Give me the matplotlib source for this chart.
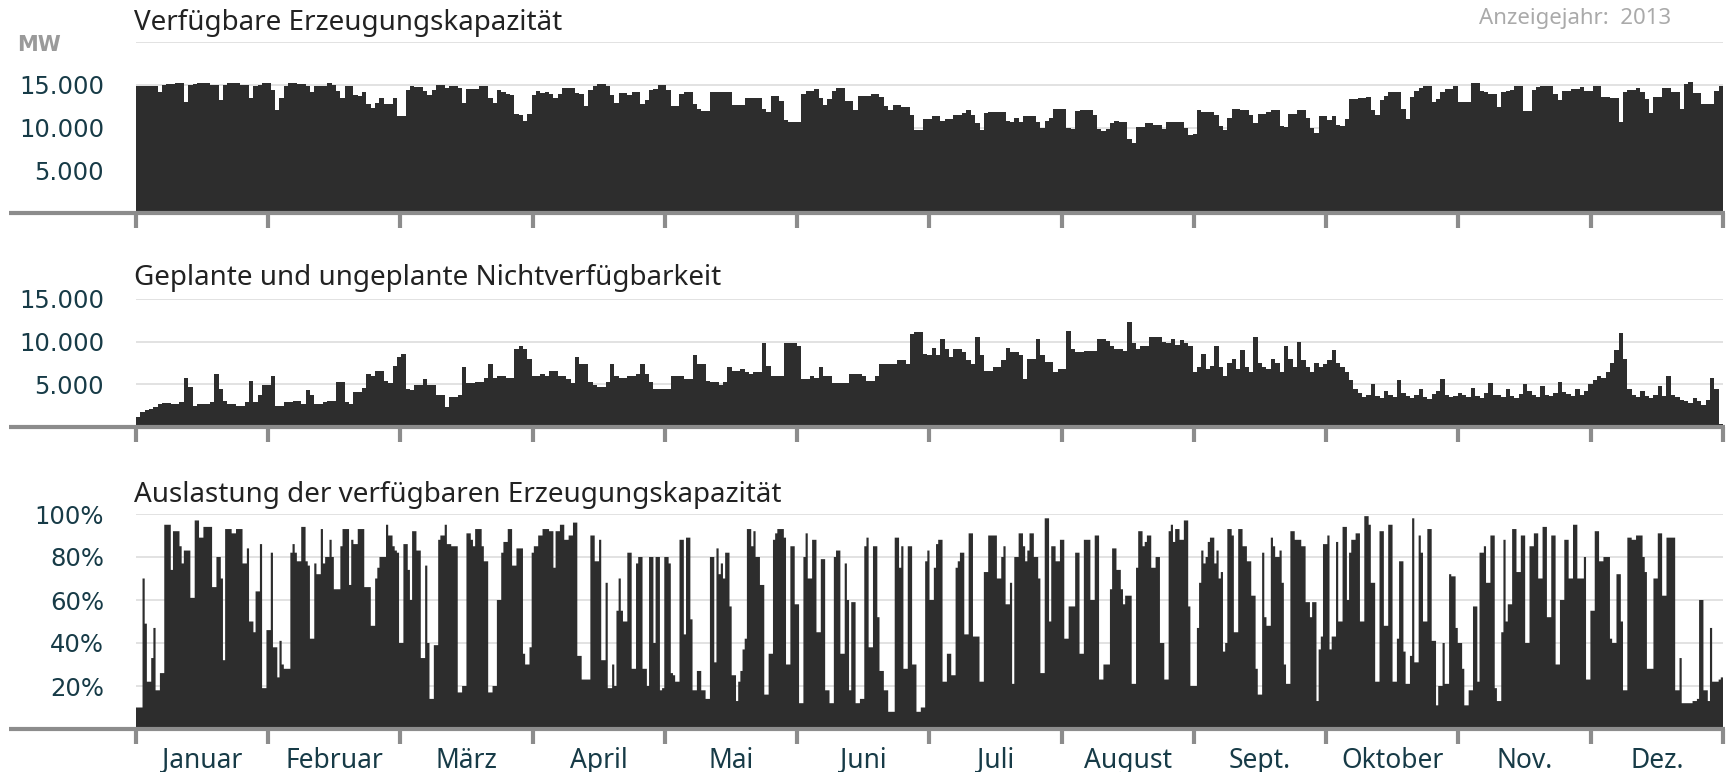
import numpy as np
import matplotlib
matplotlib.use("Agg")
import matplotlib.pyplot as plt
from matplotlib.lines import Line2D
from matplotlib.transforms import blended_transform_factory

# ---------------- data ----------------
months = ["Januar", "Februar", "März", "April", "Mai", "Juni", "Juli",
          "August", "Sept.", "Oktober", "Nov.", "Dez."]

# available generation capacity per day, in 1000 MW
capacity_k = [
    14.9, 14.9, 14.8, 14.8, 14.8, 14.2, 15.0, 15.1, 15.1, 15.2,
    15.2, 13.0, 15.0, 15.1, 15.2, 15.2, 15.2, 15.0, 15.0, 13.2,
    15.0, 15.2, 15.2, 15.2, 15.0, 15.0, 13.5, 14.8, 15.0, 15.2,
    15.2, 14.4, 12.0, 13.5, 14.85, 15.2, 15.2, 15.1, 15.1, 14.9,
    14.2, 14.9, 14.9, 14.9, 15.2, 15.0, 14.3, 13.5, 14.85, 14.8,
    13.8, 13.7, 14.1, 12.7, 12.3, 12.9, 13.4, 12.8, 12.8, 13.5,
    11.3, 11.3, 14.4, 14.85, 14.7, 14.7, 14.3, 13.8, 14.4, 15.0,
    15.0, 14.6, 14.85, 14.85, 14.6, 12.9, 14.5, 14.5, 14.5, 14.85,
    14.85, 13.4, 12.9, 14.4, 14.1, 13.9, 13.8, 11.6, 11.5, 10.8,
    11.6, 13.8, 14.3, 14.0, 14.2, 13.9, 13.4, 13.9, 14.6, 14.6,
    14.6, 14.0, 13.9, 12.5, 14.4, 14.85, 15.1, 15.1, 14.85, 13.8,
    12.9, 14.0, 14.0, 13.8, 14.1, 14.1, 12.8, 13.2, 14.4, 14.5,
    15.0, 15.0, 14.4, 12.5, 12.5, 13.9, 14.1, 14.1, 12.8, 12.2,
    11.95, 11.95, 14.1, 14.1, 14.1, 14.1, 14.1, 12.6, 12.6, 12.6,
    13.4, 13.4, 13.4, 13.4, 12.2, 11.85, 13.7, 13.7, 13.1, 10.9,
    10.6, 10.7, 10.7, 13.9, 14.3, 14.3, 14.5, 13.5, 12.6, 13.3,
    14.3, 14.6, 14.6, 13.1, 13.1, 12.1, 13.7, 13.7, 13.7, 13.9,
    13.9, 13.6, 12.5, 12.1, 12.6, 12.6, 12.4, 12.4, 11.5, 9.7,
    9.7, 11.0, 11.0, 11.3, 11.3, 10.8, 11.0, 11.0, 11.5, 11.5,
    11.7, 12.0, 11.5, 10.5, 9.7, 11.7, 11.8, 11.8, 11.8, 11.8,
    10.8, 10.7, 11.1, 10.7, 11.4, 11.4, 11.4, 10.7, 10.0, 10.8,
    11.1, 12.2, 12.2, 12.2, 10.0, 9.8, 11.9, 12.1, 12.1, 12.1,
    11.5, 9.8, 9.6, 9.8, 10.5, 10.8, 10.7, 10.7, 8.6, 8.2,
    10.1, 10.1, 10.5, 10.5, 10.3, 10.3, 9.8, 10.7, 10.7, 10.7,
    10.7, 10.0, 9.1, 9.2, 12.1, 11.8, 11.8, 11.8, 11.5, 10.2,
    9.7, 11.1, 12.2, 12.2, 12.0, 12.0, 11.5, 10.5, 11.6, 11.6,
    11.8, 12.1, 12.1, 10.2, 10.1, 11.6, 11.6, 12.1, 12.1, 11.1,
    10.0, 9.4, 11.4, 11.3, 10.9, 11.3, 10.3, 10.2, 11.0, 13.3,
    13.3, 13.4, 13.4, 13.6, 12.1, 11.5, 13.2, 13.7, 14.1, 14.1,
    14.1, 12.2, 11.0, 13.6, 14.3, 14.6, 14.85, 14.85, 13.0, 13.3,
    14.2, 14.5, 14.5, 14.85, 13.0, 13.0, 13.0, 15.2, 15.2, 14.3,
    14.2, 13.9, 13.9, 12.4, 14.1, 14.3, 14.4, 14.85, 14.85, 11.9,
    11.9, 14.4, 14.7, 14.85, 14.85, 14.85, 13.9, 13.2, 14.3, 14.3,
    14.5, 14.5, 14.7, 14.3, 14.3, 14.85, 14.85, 13.6, 13.6, 13.4,
    13.4, 10.7, 14.2, 14.4, 14.4, 14.6, 14.2, 13.3, 11.7, 13.6,
    13.6, 14.6, 14.6, 14.2, 14.2, 12.2, 15.1, 15.3, 14.0, 14.0,
    12.8, 12.8, 12.8, 14.3, 14.85,
]

# planned and unplanned unavailability per day, in 1000 MW
outage_k = [
    1.2, 1.75, 2.0, 2.1, 2.3, 2.7, 2.8, 2.8, 2.7, 2.7,
    2.9, 5.8, 4.7, 2.5, 2.7, 2.7, 2.7, 2.9, 6.2, 4.5,
    3.0, 2.7, 2.7, 2.5, 2.5, 2.9, 5.4, 2.9, 3.7, 4.9,
    4.9, 6.0, 2.5, 2.5, 2.9, 2.9, 3.1, 3.1, 2.7, 4.3,
    3.7, 2.7, 2.7, 2.9, 3.1, 3.1, 5.3, 5.3, 2.9, 2.7,
    4.1, 4.1, 4.6, 6.2, 6.0, 6.6, 6.6, 5.4, 5.1, 7.2,
    8.2, 8.6, 4.5, 4.3, 4.9, 4.9, 5.6, 4.9, 4.9, 3.7,
    3.7, 2.3, 3.5, 3.5, 3.7, 7.0, 5.1, 5.1, 5.3, 5.3,
    5.8, 7.4, 5.8, 6.0, 6.0, 5.8, 5.8, 9.1, 9.5, 9.1,
    8.0, 6.0, 6.0, 6.2, 6.0, 6.6, 6.6, 6.0, 6.0, 5.6,
    5.1, 8.2, 7.4, 7.4, 5.3, 4.9, 4.7, 4.7, 5.3, 7.4,
    6.0, 5.8, 5.8, 6.0, 6.0, 6.2, 7.4, 6.2, 5.3, 4.5,
    4.5, 4.5, 4.5, 6.0, 6.0, 6.0, 5.6, 5.6, 8.4, 7.4,
    7.4, 5.4, 5.3, 5.3, 4.9, 5.3, 7.0, 6.6, 6.6, 6.8,
    6.4, 6.2, 6.4, 6.4, 9.9, 7.2, 6.0, 6.0, 6.0, 9.9,
    9.9, 9.9, 9.5, 5.6, 5.6, 6.0, 5.8, 7.0, 6.0, 6.0,
    5.1, 5.1, 5.1, 5.1, 6.2, 6.2, 6.2, 6.0, 5.4, 5.4,
    6.0, 7.4, 7.4, 7.4, 7.4, 7.8, 7.8, 7.4, 10.9, 11.1,
    11.1, 8.6, 8.4, 9.3, 8.4, 10.3, 9.1, 8.2, 9.1, 9.1,
    8.8, 7.8, 7.4, 10.5, 8.4, 6.6, 6.6, 7.0, 7.0, 7.8,
    9.3, 8.8, 8.8, 8.4, 5.6, 8.0, 8.0, 10.3, 8.4, 7.6,
    7.6, 6.4, 6.8, 6.8, 11.3, 9.1, 8.8, 8.8, 8.9, 8.9,
    8.9, 10.3, 10.3, 10.1, 9.5, 9.1, 9.1, 8.9, 12.3, 9.9,
    9.1, 9.5, 9.5, 10.5, 10.5, 10.5, 10.0, 9.8, 10.3, 9.6,
    10.2, 9.8, 9.5, 6.5, 7.0, 8.5, 6.8, 7.2, 9.5, 7.0,
    6.0, 7.5, 8.0, 6.8, 9.0, 7.0, 6.5, 10.5, 7.5, 7.0,
    6.8, 8.0, 7.5, 6.5, 9.5, 8.0, 7.0, 10.0, 7.8, 7.0,
    6.5, 7.5, 7.0, 7.4, 7.8, 9.0, 7.5, 7.0, 6.5, 5.5,
    4.5, 4.0, 3.5, 3.8, 5.0, 3.6, 3.4, 4.2, 3.8, 3.5,
    5.5, 4.0, 3.6, 3.4, 3.8, 4.5, 3.5, 3.3, 3.9, 4.2,
    5.6, 3.8, 3.5, 3.6, 4.0, 3.8, 3.5, 4.6, 3.6, 3.4,
    4.0, 5.2, 3.8, 3.7, 3.5, 4.5, 3.6, 3.4, 3.9, 5.0,
    4.2, 3.7, 3.5, 4.8, 3.8, 3.6, 4.0, 5.3, 4.1, 3.9,
    3.6, 4.4, 3.8, 4.2, 5.0, 5.5, 6.0, 5.8, 6.5, 7.5,
    9.0, 11.0, 8.0, 4.5, 3.8, 3.5, 4.2, 3.6, 3.4, 3.8,
    4.8, 3.6, 6.0, 3.8, 3.5, 3.2, 3.0, 2.8, 3.4, 3.0,
    2.6, 3.2, 5.8, 4.5, 0.4,
]

# utilisation of the available capacity, % per half day
util_pct = [
    10, 10, 10, 70, 49, 22, 22, 33, 47, 18,
    18, 26, 26, 95, 95, 95, 74, 92, 92, 92,
    85, 77, 83, 83, 83, 61, 61, 97, 97, 89,
    89, 94, 94, 94, 94, 66, 66, 80, 80, 70,
    32, 93, 93, 93, 91, 91, 93, 93, 93, 77,
    77, 84, 50, 50, 45, 64, 64, 86, 19, 19,
    46, 46, 82, 38, 38, 24, 41, 30, 28, 28,
    28, 82, 86, 82, 78, 78, 94, 94, 78, 76,
    42, 42, 77, 72, 72, 93, 77, 80, 80, 88,
    80, 65, 65, 65, 85, 93, 93, 93, 67, 88,
    86, 86, 93, 93, 93, 66, 66, 66, 48, 48,
    70, 75, 80, 80, 80, 95, 90, 90, 85, 83,
    82, 40, 40, 86, 86, 74, 60, 92, 92, 83,
    83, 33, 33, 76, 40, 14, 14, 39, 39, 88,
    90, 90, 95, 86, 86, 85, 85, 85, 17, 17,
    20, 20, 91, 91, 88, 85, 93, 93, 93, 85,
    78, 78, 17, 17, 20, 20, 60, 60, 82, 87,
    87, 93, 93, 76, 76, 84, 84, 84, 35, 30,
    30, 38, 82, 85, 85, 90, 90, 93, 93, 93,
    92, 92, 75, 92, 92, 95, 95, 88, 88, 90,
    90, 96, 96, 34, 34, 23, 23, 23, 23, 90,
    90, 78, 78, 88, 32, 32, 68, 19, 19, 30,
    20, 55, 70, 55, 50, 50, 82, 82, 28, 28,
    77, 80, 80, 28, 28, 20, 80, 80, 40, 80,
    80, 18, 19, 80, 80, 77, 26, 25, 22, 22,
    88, 88, 44, 89, 89, 51, 18, 18, 27, 27,
    18, 18, 14, 14, 80, 80, 31, 84, 72, 77,
    70, 82, 82, 57, 25, 25, 13, 22, 27, 37,
    42, 93, 93, 85, 92, 80, 80, 67, 67, 16,
    16, 35, 35, 88, 91, 93, 93, 93, 89, 30,
    30, 85, 85, 58, 58, 12, 12, 80, 91, 70,
    70, 88, 88, 45, 45, 79, 79, 18, 18, 12,
    12, 80, 83, 83, 35, 35, 77, 60, 18, 59,
    59, 12, 12, 14, 14, 85, 89, 38, 38, 85,
    85, 52, 27, 27, 18, 18, 8, 8, 8, 89,
    89, 75, 85, 28, 28, 85, 85, 30, 30, 8,
    8, 10, 10, 78, 83, 60, 60, 75, 86, 88,
    88, 22, 22, 35, 35, 25, 25, 75, 78, 82,
    82, 44, 44, 91, 91, 43, 43, 43, 22, 22,
    73, 73, 90, 90, 90, 90, 70, 70, 80, 85,
    58, 58, 68, 21, 80, 80, 91, 91, 85, 78,
    83, 91, 91, 80, 80, 70, 26, 26, 98, 98,
    50, 85, 85, 78, 78, 88, 88, 42, 42, 57,
    57, 57, 82, 82, 35, 35, 88, 88, 88, 60,
    60, 90, 90, 23, 23, 30, 30, 30, 65, 84,
    84, 74, 74, 65, 58, 62, 62, 62, 21, 21,
    75, 92, 92, 85, 87, 90, 90, 75, 75, 80,
    80, 40, 40, 23, 23, 92, 95, 87, 93, 93,
    88, 88, 97, 97, 57, 20, 20, 20, 47, 68,
    83, 77, 80, 87, 89, 89, 77, 83, 70, 73,
    36, 40, 93, 93, 90, 45, 45, 93, 93, 85,
    85, 78, 78, 62, 62, 28, 16, 16, 82, 52,
    48, 48, 89, 85, 80, 80, 83, 68, 30, 21,
    21, 92, 92, 88, 88, 88, 85, 85, 59, 59,
    52, 59, 59, 13, 37, 43, 86, 86, 90, 37,
    43, 43, 87, 50, 50, 94, 94, 60, 82, 88,
    88, 91, 91, 50, 50, 99, 99, 95, 68, 68,
    22, 22, 92, 92, 48, 48, 95, 95, 22, 22,
    42, 78, 78, 36, 21, 21, 34, 98, 31, 31,
    90, 82, 50, 50, 93, 93, 41, 41, 11, 20,
    20, 40, 21, 21, 72, 71, 71, 47, 40, 40,
    28, 11, 11, 18, 18, 57, 57, 22, 82, 82,
    85, 68, 68, 90, 90, 19, 13, 13, 45, 88,
    50, 58, 58, 93, 93, 73, 73, 90, 90, 40,
    40, 85, 85, 91, 91, 70, 70, 94, 94, 52,
    52, 90, 90, 30, 30, 60, 60, 88, 88, 70,
    70, 95, 95, 70, 70, 70, 80, 23, 23, 55,
    55, 92, 92, 78, 78, 80, 80, 80, 42, 40,
    40, 72, 72, 50, 18, 18, 89, 89, 88, 88,
    90, 90, 90, 80, 73, 28, 28, 28, 70, 70,
    91, 91, 62, 62, 89, 89, 89, 89, 18, 18,
    33, 12, 12, 12, 12, 12, 13, 13, 14, 60,
    60, 18, 18, 13, 47, 22, 22, 22, 23, 24,
]

# ---------------- styling ----------------
W, H = 1731, 772
FILL = "#2d2d2d"
GRID = "#dddddd"
AXIS = "#8c8c8c"
LABEL = "#173b47"
N_DAYS = 365

plt.rcParams["font.family"] = ["DejaVu Sans"]

fig = plt.figure(figsize=(W / 100, H / 100), dpi=100)


def px_axes(top, bottom, left=136, right=1723):
    return fig.add_axes([left / W, 1 - bottom / H, (right - left) / W, (bottom - top) / H])


def style_axis(ax, ymax, yticks, ylabels, base_y):
    ax.set_xlim(0, N_DAYS)
    ax.set_ylim(0, ymax)
    for s in ax.spines.values():
        s.set_visible(False)
    ax.set_axisbelow(True)
    ax.set_yticks(yticks)
    ax.set_yticklabels(ylabels, fontsize=17.5, color=LABEL)
    ax.tick_params(axis="y", length=0, pad=23)
    ax.grid(axis="y", color=GRID, linewidth=1.2)
    ax.set_xticks(np.arange(13) * N_DAYS / 12)
    ax.set_xticklabels([])
    ax.tick_params(axis="x", length=11, width=3, color=AXIS, direction="out")
    # thick grey baseline that runs out to the left edge
    fig.add_artist(Line2D([9 / W, 1725 / W], [1 - base_y / H] * 2,
                          color=AXIS, linewidth=3, solid_capstyle="butt"))


# panel 1: available capacity
ax1 = px_axes(42, 213)
cap = np.array(capacity_k) * 1000
ax1.stairs(cap, np.arange(len(cap) + 1), fill=True, color=FILL, linewidth=0)
style_axis(ax1, 20000, [5000, 10000, 15000, 20000], ["5.000", "10.000", "15.000", ""], 213)

# panel 2: unavailability
ax2 = px_axes(299, 427)
out = np.array(outage_k) * 1000
ax2.stairs(out, np.arange(len(out) + 1), fill=True, color=FILL, linewidth=0)
style_axis(ax2, 15000, [5000, 10000, 15000], ["5.000", "10.000", "15.000"], 427)

# panel 3: utilisation
ax3 = px_axes(514, 729)
ut = np.array(util_pct, dtype=float)
ax3.stairs(ut, np.arange(len(ut) + 1) * 0.5, fill=True, color=FILL, linewidth=0)
style_axis(ax3, 100, [20, 40, 60, 80, 100], ["20%", "40%", "60%", "80%", "100%"], 729)

# month names centred between the ticks
tr = blended_transform_factory(ax3.transData, fig.transFigure)
for i, m in enumerate(months):
    ax3.text((i + 0.5) * N_DAYS / 12, 1 - 768 / H, m, transform=tr, ha="center",
             va="baseline", fontsize=19, color=LABEL, family="Noto Sans", clip_on=False)

# titles and annotations
title_kw = dict(fontsize=20, color="#222222", family="Noto Sans", va="baseline", ha="left")
fig.text(134 / W, 1 - 30 / H, "Verfügbare Erzeugungskapazität", **title_kw)
fig.text(134 / W, 1 - 285 / H, "Geplante und ungeplante Nichtverfügbarkeit", **title_kw)
fig.text(134 / W, 1 - 502 / H, "Auslastung der verfügbaren Erzeugungskapazität", **title_kw)
fig.text(17 / W, 1 - 51 / H, "MW", fontsize=15, weight="bold", color="#9a9a9a", va="baseline")
fig.text(1671 / W, 1 - 24 / H, "Anzeigejahr:  2013", fontsize=16, color="#aaaaaa",
         family="Noto Sans", ha="right", va="baseline")

fig.savefig("out.png", dpi=100)
